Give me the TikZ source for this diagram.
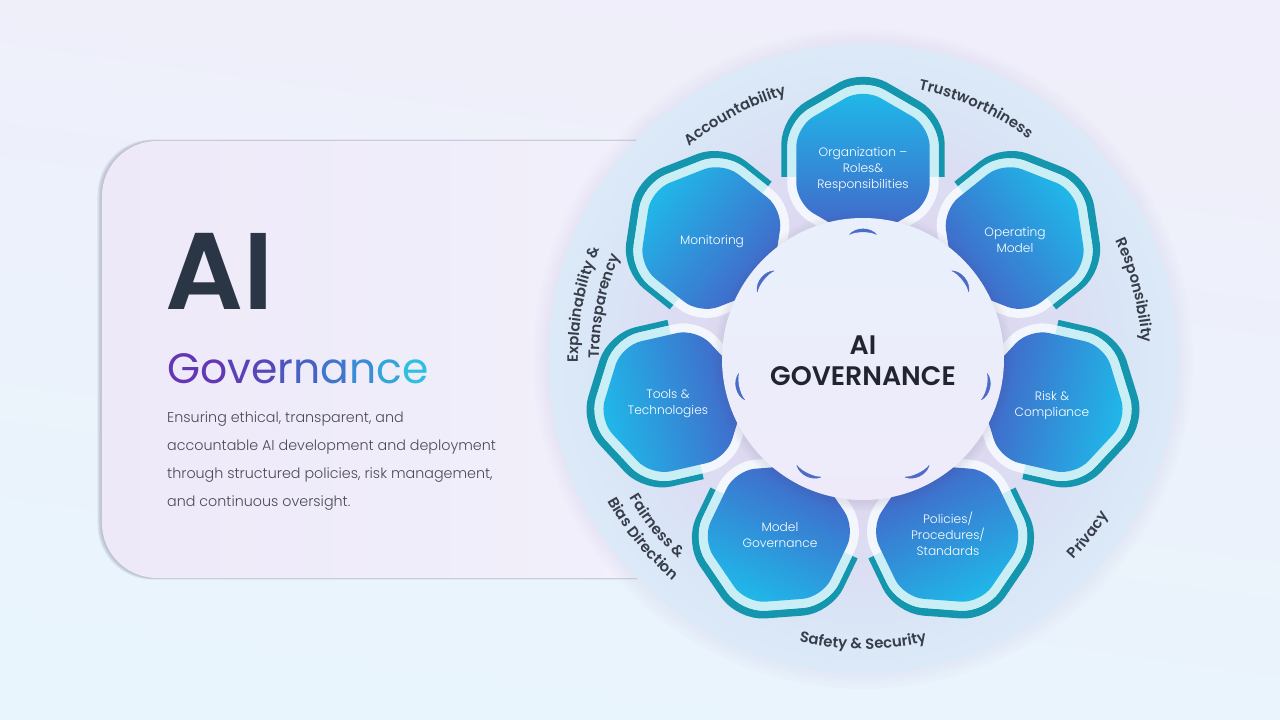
\documentclass[tikz,border=0pt]{standalone}
\usepackage{fontspec}
\setmainfont{Poppins}
\newfontfamily\fbody{Poppins Light}
\newfontfamily\fmed{Poppins Medium}
\newfontfamily\fsemi{Poppins SemiBold}
\definecolor{teal1}{HTML}{1497AE}
\definecolor{ringc}{HTML}{C9EEF5}
\definecolor{ringw}{HTML}{F4F6FD}
\definecolor{blueO}{HTML}{1EBBEA}
\definecolor{blueI}{HTML}{4660C6}
\definecolor{crescent}{HTML}{4A6CC6}
\definecolor{lbl}{HTML}{383D4A}
\definecolor{dark}{HTML}{2A3645}
\definecolor{bodyc}{HTML}{4A4A58}
\definecolor{dA}{HTML}{DDD9F0}
\definecolor{dB}{HTML}{DCDEF3}
\definecolor{dC}{HTML}{D9E5F6}
\definecolor{dD}{HTML}{DCEAF8}
\definecolor{bgT}{HTML}{F0EEFA}
\definecolor{bgM}{HTML}{EEECF9}
\definecolor{bgB}{HTML}{E8F5FC}
\definecolor{cardL}{HTML}{EEE9F9}
\definecolor{cardR}{HTML}{F2F1FB}
\definecolor{innT}{HTML}{E9F0FC}
\definecolor{innB}{HTML}{EFEAFA}
\definecolor{shad}{HTML}{5F6078}
\definecolor{halo}{HTML}{C8B4E4}
\definecolor{centerc}{HTML}{22252F}
\pgfdeclareradialshading{diskshade}{\pgfpointorigin}{%
  color(0bp)=(dA); color(12bp)=(dA); color(16.5bp)=(dB);
  color(20.5bp)=(dC); color(25bp)=(dD); color(100bp)=(dD)}
\newcommand\lblf{\fsemi\fontsize{14.9}{16}\selectfont}
\tikzset{
  plabel/.style={text=white,align=center,font=\fbody\fontsize{12.2}{16}\selectfont,inner sep=0pt},
  body/.style={text=bodyc,anchor=west,font=\fbody\fontsize{14.3}{16}\selectfont,inner sep=0pt},
  letter/.style={text=lbl,anchor=base,inner sep=0pt,font=\lblf}
}
\newdimen\mytotd
\newdimen\mysumd
\newbox\mybox
\newcommand\measure[1]{\setbox\mybox=\hbox{\pgfinterruptpicture\lblf #1\endpgfinterruptpicture}}
% radius, middle angle, direction (-1 clockwise, 1 counter-clockwise), name, letters
\newcommand\arctext[5]{%
  \global\mytotd=0pt
  \foreach \c in {#5}{%
    \measure{\c}%
    \global\advance\mytotd by \wd\mybox}%
  \global\mysumd=0pt
  \foreach \c [count=\i] in {#5}{%
    \measure{\c}%
    \edef\myoff{\the\dimexpr\mysumd+\wd\mybox/2-\mytotd/2\relax}%
    \global\advance\mysumd by \wd\mybox
    \pgfmathsetmacro\myang{#2+#3*(\myoff)/#1*57.29578}%
    \pgfmathsetmacro\myrot{\myang+#3*90}%
    \node[letter,rotate=\myrot] (#4-\i) at (\myang:#1) {\c};}}
\newcommand\hexp[1]{(0,194+#1) -- (#1*0.866,194+#1/2) -- (#1*0.866,194-#1/2) -- (0,194-#1) -- (-#1*0.866,194-#1/2) -- (-#1*0.866,194+#1/2) -- cycle}
\newcommand\petal[1]{%
  \begin{scope}[transform canvas={rotate=#1-90}]
    \begin{scope}
      \clip (-110,182) rectangle (110,300);
      \draw[teal1,line width=30pt,rounded corners=20pt,line join=round,yshift=2pt] \hexp{77};
    \end{scope}
    \draw[ringw,line width=18pt,rounded corners=20pt,line join=round] \hexp{77};
    \begin{scope}
      \clip (-110,182) rectangle (110,300);
      \draw[ringc,line width=18pt,rounded corners=20pt,line join=round] \hexp{77};
    \end{scope}
    \shade[top color=blueO,bottom color=blueI,rounded corners=20pt] \hexp{77};
  \end{scope}}
\newcommand\cresc[1]{%
  \begin{scope}[transform canvas={rotate=#1-90}]
    \fill[crescent,draw=crescent,line width=.4pt,line join=round] (-13.5,124.5) .. controls (-7,132) and (7,132) .. (13.5,124.5) .. controls (7,128) and (-7,128) .. cycle;
  \end{scope}}
\newcommand\cw[2]{{\color[HTML]{#1}#2}}
\begin{document}
\begin{tikzpicture}[x=1pt,y=1pt]
\useasboundingbox (-863,-361) rectangle (417,359);
% background
\shade[top color=bgT,middle color=bgM,bottom color=bgB,shading angle=-8] (-863,-361) rectangle (417,359);
% card shadow and card
\foreach \d in {4,3,2,1}{
  \fill[shad,opacity=.09,rounded corners=55pt] (102-863-\d-0.5,359-141+\d*0.4) rectangle (720-863,359-578-\d*0.4);
}
\shade[left color=cardL,right color=cardR,rounded corners=55pt] (102-863,359-141) rectangle (720-863,359-578);
% disk halo
\foreach \r in {330,327,324,321,318}{
  \fill[halo,opacity=.03] (0,0) circle[radius=\r];
}
\shade[shading=diskshade] (0,0) circle[radius=315];
% petals
\foreach \a in {90,38.57,-12.86,-64.29,-115.71,-167.14,141.43}{\petal{\a}}
% inner circle
\foreach \r in {150,148,146,144,142}{
  \fill[shad,opacity=.025] (0,-2) circle[radius=\r];
}
\shade[top color=innT,bottom color=innB] (0,0) circle[radius=141];
\foreach \a in {90,38.57,-12.86,-64.29,-115.71,-167.14,141.43}{\cresc{\a}}
% left texts
\node[anchor=base west,inner sep=0pt,text=dark,font=\fsemi\fontsize{109}{109}\selectfont] (ai) at (165-863,359-310) {AI};
\node[anchor=base west,inner sep=0pt,font=\fontsize{42.5}{42.5}\selectfont] (gov) at (167-863,359-383) {%
\cw{6436B4}{G}\cw{6338B5}{o}\cw{5C40B8}{v}\cw{5548BA}{e}\cw{4D55BE}{r}\cw{4762C4}{n}\cw{4076CC}{a}\cw{3A8CD4}{n}\cw{34A5DB}{c}\cw{2FBFE1}{e}};
\node[body] (b1) at (167-863,359-419) {Ensuring ethical, transparent, and};
\node[body] (b2) at (167-863,359-447) {accountable AI development and deployment};
\node[body] (b3) at (167-863,359-475) {through structured policies, risk management,};
\node[body] (b4) at (167-863,359-503) {and continuous oversight.};
% center
\node[align=center,inner sep=0pt,text=centerc,font=\fsemi\fontsize{26.8}{31}\selectfont] (center) at (0,359-361) {AI\\GOVERNANCE};
% petal labels
\node[plabel] (p1) at (0,359-169) {Organization –\\Roles\&\\Responsibilities};
\node[plabel] (p2) at (1015-863,359-240) {Operating\\Model};
\node[plabel] (p3) at (1052-863,359-405) {Risk \&\\Compliance};
\node[plabel] (p4) at (948-863,359-534) {Policies/\\Procedures/\\Standards};
\node[plabel] (p5) at (780-863,359-535) {Model\\Governance};
\node[plabel] (p6) at (668-863,359-404) {Tools \&\\Technologies};
\node[plabel] (p7) at (712-863,359-242) {Monitoring};
% ring labels
\arctext{275}{117.7}{-1}{acc}{A,c,c,o,u,n,t,a,b,i,l,i,t,y}
\arctext{275}{65.7}{-1}{tru}{T,r,u,s,t,w,o,r,t,h,i,n,e,s,s}
\arctext{279}{14.2}{-1}{res}{R,e,s,p,o,n,s,i,b,i,l,i,t,y}
\arctext{291}{-38}{1}{pri}{P,r,i,v,a,c,y}
\arctext{290}{-90}{1}{saf}{S,a,f,e,t,y,~,\&,~,S,e,c,u,r,i,t,y}
\arctext{272}{219}{1}{fai}{F,a,i,r,n,e,s,s,~,\&}
\arctext{292}{219.3}{1}{bia}{B,i,a,s,~,D,i,r,e,c,t,i,o,n}
\arctext{285}{169}{-1}{exp}{E,x,p,l,a,i,n,a,b,i,l,i,t,y,~,\&}
\arctext{264}{168.5}{-1}{tra}{T,r,a,n,s,p,a,r,e,n,c,y}
\end{tikzpicture}
\end{document}
